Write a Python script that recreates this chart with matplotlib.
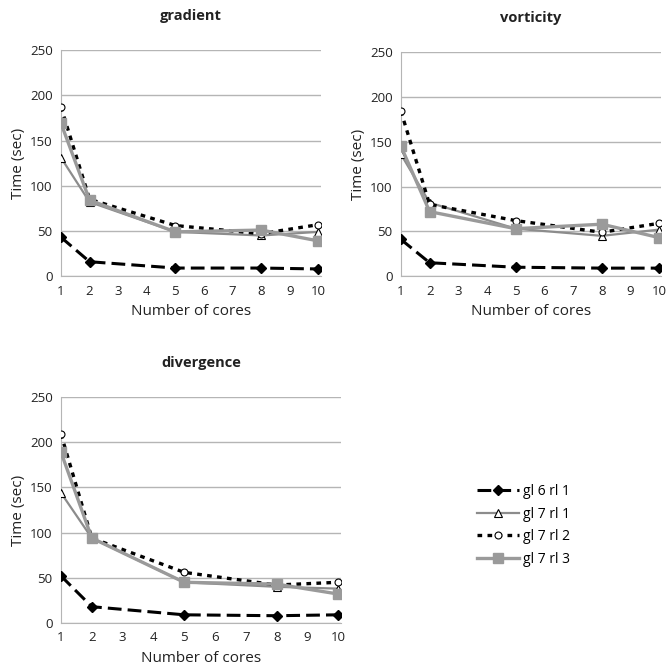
import matplotlib
matplotlib.use("Agg")
import matplotlib.pyplot as plt

plt.rcParams['font.family'] = ['Open Sans', 'DejaVu Sans']

cores = [1, 2, 5, 8, 10]
series_names = ["gl 6 rl 1", "gl 7 rl 1", "gl 7 rl 2", "gl 7 rl 3"]

gradient_gl6_rl1 = [43, 16, 9, 9, 8]
gradient_gl7_rl1 = [131, 82, 49, 45, 49]
gradient_gl7_rl2 = [187, 85, 56, 47, 57]
gradient_gl7_rl3 = [169, 84, 49, 51, 39]

vorticity_gl6_rl1 = [41, 15, 10, 9, 9]
vorticity_gl7_rl1 = [136, 82, 53, 45, 52]
vorticity_gl7_rl2 = [184, 80, 62, 49, 59]
vorticity_gl7_rl3 = [145, 72, 53, 58, 43]

divergence_gl6_rl1 = [52, 18, 9, 8, 9]
divergence_gl7_rl1 = [144, 94, 45, 40, 38]
divergence_gl7_rl2 = [209, 94, 56, 42, 45]
divergence_gl7_rl3 = [189, 94, 45, 43, 32]

y_ticks = [0, 50, 100, 150, 200, 250]
x_ticks = [1, 2, 3, 4, 5, 6, 7, 8, 9, 10]

fig = plt.figure(figsize=(6.66, 6.72), dpi=100)

panels = [
    ("gradient", [0.0916, 0.589, 0.390, 0.3365],
     [gradient_gl6_rl1, gradient_gl7_rl1, gradient_gl7_rl2, gradient_gl7_rl3], 10.08),
    ("vorticity", [0.602, 0.589, 0.390, 0.3335],
     [vorticity_gl6_rl1, vorticity_gl7_rl1, vorticity_gl7_rl2, vorticity_gl7_rl3], 10.05),
    ("divergence", [0.0916, 0.073, 0.420, 0.336],
     [divergence_gl6_rl1, divergence_gl7_rl1, divergence_gl7_rl2, divergence_gl7_rl3], 10.08),
]

handles = None
for title, rect, data, xmax in panels:
    ax = fig.add_axes(rect)
    ax.set_facecolor('white')
    h1, = ax.plot(cores, data[0], color='black', lw=2.2, dashes=(4.5, 2.0),
                  marker='D', markersize=5, markerfacecolor='black',
                  markeredgecolor='black', label=series_names[0], zorder=3)
    h2, = ax.plot(cores, data[1], color='#8c8c8c', lw=1.6,
                  marker='^', markersize=6, markerfacecolor='white',
                  markeredgecolor='black', markeredgewidth=0.8,
                  label=series_names[1], zorder=4)
    h3, = ax.plot(cores, data[2], color='black', lw=2.4, dashes=(1.4, 1.6),
                  marker='o', markersize=5, markerfacecolor='white',
                  markeredgecolor='black', markeredgewidth=0.8,
                  label=series_names[2], zorder=4)
    h4, = ax.plot(cores, data[3], color='#9a9a9a', lw=2.4,
                  marker='s', markersize=7.5, markerfacecolor='#9a9a9a',
                  markeredgecolor='#9a9a9a', label=series_names[3], zorder=5)
    handles = [h1, h2, h3, h4]
    ax.set_xlim(1, xmax)
    ax.set_ylim(0, 250)
    ax.set_yticks(y_ticks)
    ax.set_xticks(x_ticks)
    ax.tick_params(length=0, labelsize=9.5, colors='#222222', pad=6)
    ax.yaxis.grid(True, color='#b5b5b5', lw=1.0)
    ax.set_axisbelow(True)
    for s in ['top', 'right']:
        ax.spines[s].set_visible(False)
    ax.spines['bottom'].set_color('#b5b5b5')
    ax.spines['left'].set_color('#b5b5b5')
    ax.set_xlabel("Number of cores", fontsize=11, color='#222222', labelpad=5)
    ax.set_ylabel("Time (sec)", fontsize=11, color='#222222', labelpad=3)
    ax.set_title(title, fontsize=10.5, fontweight='bold', color='#222222', pad=22)
    for lab in ax.get_xticklabels() + ax.get_yticklabels():
        lab.set_clip_on(False)

fig.legend(handles=handles, labels=series_names, loc='upper left',
           bbox_to_anchor=(0.708, 0.288), frameon=False, fontsize=10,
           handlelength=3.0, handletextpad=0.3, labelspacing=0.55,
           borderaxespad=0)

fig.savefig("out.png", dpi=100, facecolor='white')
